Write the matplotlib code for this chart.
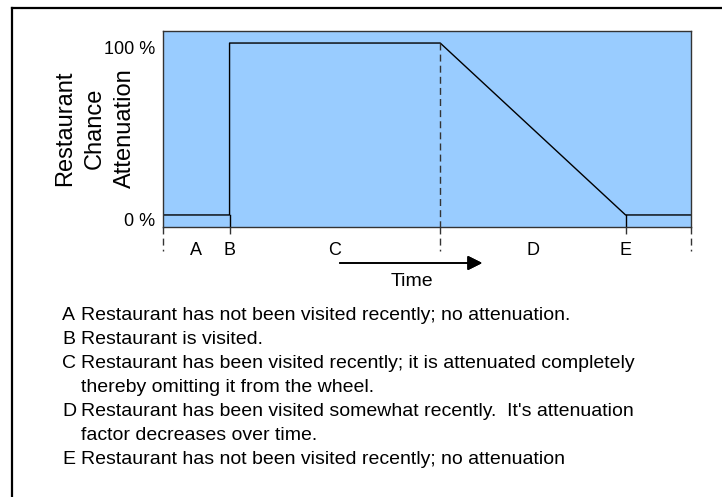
import numpy as np
import matplotlib.pyplot as plt
from matplotlib.lines import Line2D
import matplotlib.transforms as mtransforms

plt.rcParams['font.family'] = ['Liberation Sans', 'DejaVu Sans']

# Phase boundaries on the time axis and the attenuation at each of them
phase_times = [0.0, 1.27, 5.26, 8.77, 10.0]
line_x = [0.0, 1.27, 1.27, 5.26, 8.77, 10.0]
line_y = [0, 0, 100, 100, 0, 0]

y_ticks = [0, 100]
y_tick_labels = ['0 %', '100 %']
phase_letters = ['A', 'B', 'C', 'D', 'E']

notes = [
    ('A', 'Restaurant has not been visited recently; no attenuation.'),
    ('B', 'Restaurant is visited.'),
    ('C', 'Restaurant has been visited recently; it is attenuated completely'),
    ('', 'thereby omitting it from the wheel.'),
    ('D', "Restaurant has been visited somewhat recently.  It's attenuation"),
    ('', 'factor decreases over time.'),
    ('E', 'Restaurant has not been visited recently; no attenuation'),
]

W, H = 722, 497
fig = plt.figure(figsize=(W / 100, H / 100), dpi=100)


def fx(px):
    return px / W


def fy(py):
    return 1 - py / H


# outer frame (only top and left edge fall inside the picture)
fig.add_artist(Line2D([fx(12), fx(12)], [fy(8), 0], color='black', lw=1.6))
fig.add_artist(Line2D([fx(12), 1], [fy(8), fy(8)], color='black', lw=1.6))

ax = fig.add_axes([fx(162.5), fy(227), fx(690.5) - fx(162.5), fy(31) - fy(227)])
ax.set_facecolor('#99ccff')
for s in ax.spines.values():
    s.set_color('#333333')
    s.set_linewidth(1.0)

ax.plot(line_x, line_y, color='black', lw=1.0)
ax.set_xlim(phase_times[0], phase_times[-1])
ax.set_ylim(-7, 107)

ax.set_yticks(y_ticks, y_tick_labels, fontsize=13)
ax.tick_params(axis='y', length=0, pad=5.5)
ax.set_xticks([])
shift = mtransforms.ScaledTranslation(0, -3 / 72, fig.dpi_scale_trans)
for lbl in ax.get_yticklabels():
    lbl.set_transform(lbl.get_transform() + shift)

trans = mtransforms.blended_transform_factory(ax.transData, ax.transAxes)
dash = (0, (5, 3))
for i, t in enumerate(phase_times):
    # B and E get a single short dash, the others run further down
    low = -0.055 if i in (1, 3) else -0.12
    ax.plot([t, t], [0, low], transform=trans, color='#333333', lw=1.0,
            linestyle=dash, clip_on=False)
# dashed marker from the top of the plateau down to the axis
ax.plot([phase_times[2]] * 2, [100, -7], color='#333333', lw=1.0, linestyle=dash)
# short solid drops at B and E
for t in (phase_times[1], phase_times[3]):
    ax.plot([t, t], [0, -7], color='black', lw=1.0)

letter_x = [
    (phase_times[0] + phase_times[1]) / 2,
    phase_times[1],
    (phase_times[1] + phase_times[2]) / 2,
    (phase_times[2] + phase_times[3]) / 2,
    phase_times[3],
]
for x, lab in zip(letter_x, phase_letters):
    ax.text(x, -0.12, lab, transform=trans, ha='center', va='center', fontsize=13)

# time arrow and label
fig.add_artist(plt.annotate('', xy=(fx(485), fy(263)), xytext=(fx(337), fy(263)),
                            xycoords='figure fraction', textcoords='figure fraction',
                            arrowprops=dict(arrowstyle='-|>', color='black', lw=1.2,
                                            mutation_scale=22)))
fig.text(fx(412), fy(282), 'Time', ha='center', va='center', fontsize=14)

fig.text(fx(95), fy(128), 'Restaurant\nChance\nAttenuation', rotation=90,
         ha='center', va='center', multialignment='center', fontsize=17,
         linespacing=1.45)

row_y = [315, 339, 363, 387, 411, 435, 459]
for (letter, desc), y in zip(notes, row_y):
    if letter:
        fig.text(fx(62), fy(y), letter, ha='left', va='center', fontsize=14)
    fig.text(fx(81), fy(y), desc, ha='left', va='center', fontsize=14)

fig.savefig('out.png', dpi=100)
